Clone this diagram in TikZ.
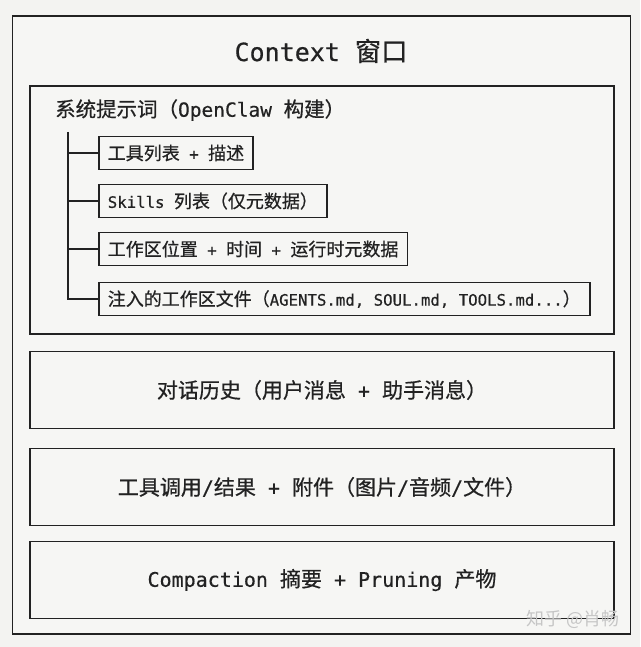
\documentclass[tikz,border=0pt]{standalone}
\usepackage{fontspec}
\setmainfont[FakeBold=0.5]{DejaVu Sans Mono}
\setmonofont{DejaVu Sans Mono}
\newfontfamily\zh[FakeBold=0.6,Scale=1.05]{Noto Sans CJK SC}
\newfontfamily\zhi[FakeBold=0.6,Scale=1.146]{Noto Sans CJK SC}
\newfontfamily\zhw{Noto Sans CJK SC}
\definecolor{bg}{HTML}{F3F3F1}
\definecolor{boxbg}{HTML}{F6F6F4}
\definecolor{ink}{HTML}{222222}
\begin{document}
\begin{tikzpicture}[x=1pt,y=-1pt,
  frame/.style={draw=ink,line width=1.8pt,fill=boxbg,inner sep=0pt},
  section/.style={frame,minimum width=584pt,minimum height=77pt,font=\fontsize{20}{24}\selectfont,text=ink},
  item/.style={draw=ink,line width=1.6pt,fill=boxbg,anchor=west,inner xsep=9pt,minimum height=33pt,font=\fontsize{15.7}{20}\selectfont,text=ink},
  branch/.style={draw=ink,line width=1.6pt}]
\fill[bg] (0,0) rectangle (640,647);
\useasboundingbox (0,0) rectangle (640,647);
\node[frame,minimum width=618pt,minimum height=618pt] (outer) at (321.5,325) {};
\node[text=ink,font=\fontsize{25}{30}\selectfont] (title) at (321,51) {Context {\zh 窗口}};
\node[frame,minimum width=584pt,minimum height=248pt] (sys) at (322,210) {};
\node[anchor=west,text=ink,inner sep=0pt,font=\fontsize{19.5}{24}\selectfont] (systitle) at (55,110) {{\zh 系统提示词（}OpenClaw {\zh 构建）}};
\node[item] (b1) at (98,153) {{\zhi 工具列表} + {\zhi 描述}};
\node[item] (b2) at (98,201) {Skills {\zhi 列表（仅元数据）}};
\node[item] (b3) at (98,249) {{\zhi 工作区位置} + {\zhi 时间} + {\zhi 运行时元数据}};
\node[item] (b4) at (98,299) {{\zhi 注入的工作区文件（}AGENTS.md, SOUL.md, TOOLS.md...{\zhi ）}};
\coordinate (trunk) at (68,132);
\draw[branch] (trunk) |- (b4.west);
\draw[branch] (b1.west) -- (b1.west -| trunk);
\draw[branch] (b2.west) -- (b2.west -| trunk);
\draw[branch] (b3.west) -- (b3.west -| trunk);
\node[section] (hist) at (322,390) {{\zh 对话历史（用户消息} + {\zh 助手消息）}};
\node[section] (tools) at (322,487) {{\zh 工具调用}/{\zh 结果} + {\zh 附件（图片}/{\zh 音频}/{\zh 文件）}};
\node[section] (comp) at (322,580) {Compaction {\zh 摘要} + Pruning {\zh 产物}};
\node[text=gray!45,font=\zhw\fontsize{18}{20}\selectfont] (wm) at (573,619) {知乎 @肖畅};
\end{tikzpicture}
\end{document}
